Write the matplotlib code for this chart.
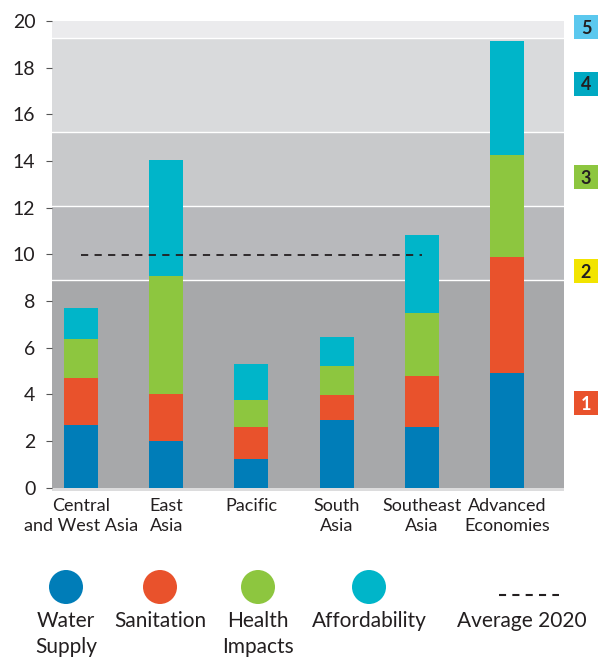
import matplotlib.pyplot as plt
from matplotlib.patches import Circle, Rectangle

plt.rcParams['font.family'] = ['Lato', 'DejaVu Sans']

regions = ["Central\nand West Asia", "East\nAsia", "Pacific", "South\nAsia",
           "Southeast\nAsia", "Advanced\nEconomies"]
water = [2.70, 1.99, 1.24, 2.90, 2.59, 4.89]
sanitation = [1.98, 2.04, 1.35, 1.06, 2.19, 4.99]
health = [1.67, 5.03, 1.14, 1.24, 2.72, 4.38]
afford = [1.35, 4.97, 1.58, 1.25, 3.32, 4.87]
average_2020 = 9.95

# bands behind the bars (upper bounds) and the numbered boxes at the right
band_edges = [0, 8.91, 12.05, 15.25, 19.26, 20]
band_colors = ["#a7a8aa", "#b8b9bc", "#c8c9cb", "#d9dadc", "#ebebed"]
level_labels = ["1", "2", "3", "4", "5"]
level_colors = ["#e9522c", "#f2e400", "#8dc63f", "#00a9c2", "#5bc8ee"]

series = [water, sanitation, health, afford]
series_names = ["Water\nSupply", "Sanitation", "Health\nImpacts", "Affordability"]
series_colors = ["#007db8", "#e9522c", "#8dc63f", "#00b5c9"]

fig = plt.figure(figsize=(6.03, 6.58), dpi=100)
ax = fig.add_axes([52 / 603, 1 - 491 / 658, 512 / 603, 470 / 658])

ax.axhspan(-0.15, 0, color="#dcdcdd", lw=0, zorder=0)
for i, c in enumerate(band_colors):
    ax.axhspan(band_edges[i], band_edges[i + 1], color=c, lw=0, zorder=0)
for e in band_edges[1:-1]:
    ax.axhline(e, color="white", lw=1, zorder=0.5)

x = list(range(len(regions)))
bottom = [0] * len(regions)
for vals, col in zip(series, series_colors):
    ax.bar(x, vals, width=0.4, bottom=bottom, color=col, zorder=2)
    bottom = [b + v for b, v in zip(bottom, vals)]

ax.plot([0, 4], [average_2020, average_2020], color="#231f20", lw=1.3,
        dashes=(4, 3.5), zorder=3)

ax.set_xlim(-0.34, 5.67)
ax.set_ylim(-0.15, 20)
ax.set_yticks(range(0, 21, 2))
ax.set_xticks(x)
ax.set_xticklabels(regions, fontsize=13, color="#231f20", linespacing=1.3)
ax.tick_params(axis="y", labelsize=14, labelcolor="#231f20", length=4,
               color="#555555", pad=8)
ax.tick_params(axis="x", length=0, pad=5)
for s in ax.spines.values():
    s.set_visible(False)

# overlay in pixel coordinates for the level boxes and the bottom legend
lg = fig.add_axes([0, 0, 1, 1], zorder=-1)
lg.set_xlim(0, 603)
lg.set_ylim(658, 0)
lg.axis("off")

box_y = [403, 271, 177, 84, 27]
for lab, col, yc in zip(level_labels, level_colors, box_y):
    lg.add_patch(Rectangle((574, yc - 12), 24, 24, color=col, lw=0))
    lg.text(586, yc + 1, lab, ha="center", va="center", fontsize=13,
            fontweight="bold", color="white" if lab == "1" else "#231f20")

cx = [66, 160, 258, 369]
for xc, col, name in zip(cx, series_colors, series_names):
    lg.add_patch(Circle((xc, 587), 17, color=col, lw=0))
    lg.text(xc, 611, name, ha="center", va="top", fontsize=15,
            color="#231f20", linespacing=1.4)
lg.plot([499, 559], [595, 595], color="#231f20", lw=1.5, dashes=(3.4, 3.0))
lg.text(522, 611, "Average 2020", ha="center", va="top", fontsize=15,
        color="#231f20")

fig.savefig("out.png", dpi=100)
